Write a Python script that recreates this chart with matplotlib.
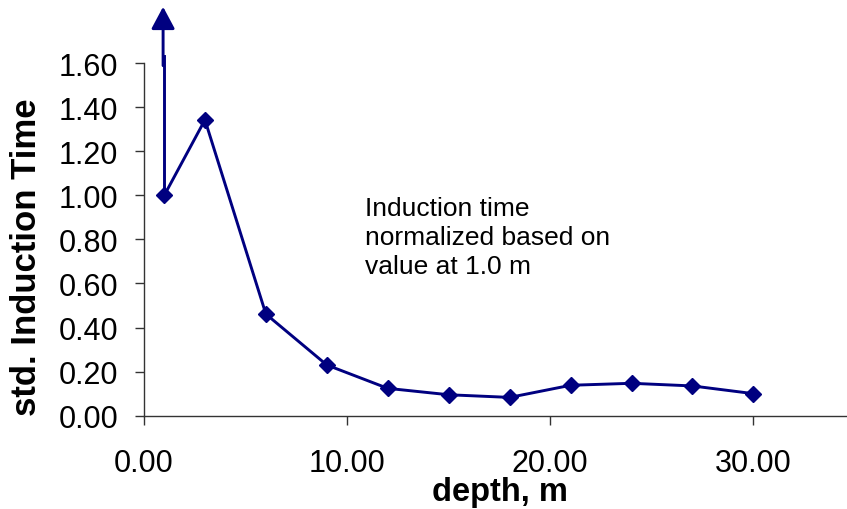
import matplotlib
matplotlib.use("Agg")
import matplotlib.pyplot as plt
from matplotlib.ticker import FormatStrFormatter

plt.rcParams["font.family"] = ["Liberation Sans", "DejaVu Sans"]

# depth (m) and induction time normalised to the value at 1.0 m
depth = [1, 3, 6, 9, 12, 15, 18, 21, 24, 27, 30]
std_induction = [1.00, 1.342, 0.461, 0.230, 0.124, 0.095, 0.083, 0.138, 0.147, 0.135, 0.100]
x_ticks = [0, 10, 20, 30]
y_ticks = [0.0, 0.2, 0.4, 0.6, 0.8, 1.0, 1.2, 1.4, 1.6]

navy = "#000080"
spine_col = "#333333"

W, H = 847, 510
fig = plt.figure(figsize=(W / 100, H / 100), dpi=100)
ax = fig.add_axes([144 / W, (H - 416.7) / H, 711 / W, 352.7 / H])

ax.plot(depth, std_induction, color=navy, lw=2.1, marker="D", ms=8,
        mec=navy, mfc=navy, clip_on=False, zorder=3)

# the 1.0 m value runs off the scale: vertical line plus arrow
ax.plot([depth[0], depth[0]], [std_induction[0], 1.633], color=navy, lw=2.1,
        clip_on=False, zorder=3)
ax.annotate("", xy=(0.94, 1.855), xytext=(0.94, 1.588),
            arrowprops=dict(arrowstyle="-|>,head_length=1.35,head_width=0.72",
                            color=navy, lw=2.1, shrinkA=0, shrinkB=0),
            annotation_clip=False, zorder=3)

ax.set_xlim(0, 35)
ax.set_ylim(0, 1.6)
ax.set_xticks(x_ticks)
ax.set_yticks(y_ticks)
ax.xaxis.set_major_formatter(FormatStrFormatter("%.2f"))
ax.yaxis.set_major_formatter(FormatStrFormatter("%.2f"))

for side in ("top", "right"):
    ax.spines[side].set_visible(False)
for side in ("left", "bottom"):
    ax.spines[side].set_color(spine_col)
    ax.spines[side].set_linewidth(1.0)

ax.tick_params(axis="both", direction="out", length=6.5, width=1.0,
               color=spine_col, labelsize=22, labelcolor="black")
ax.tick_params(axis="x", pad=17)
ax.tick_params(axis="y", pad=12)

fig.text(500 / W, 1 - 493 / H, "depth, m", fontsize=23.5, fontweight="bold",
         ha="center", va="center")
fig.text(27 / W, 1 - 257 / H, "std. Induction Time", fontsize=25,
         fontweight="bold", rotation=90, ha="center", va="center")

fig.text(365 / W, 1 - 197 / H,
         "Induction time\nnormalized based on\nvalue at 1.0 m",
         fontsize=19, ha="left", va="top", linespacing=1.27)

fig.savefig("out.png", dpi=100)
